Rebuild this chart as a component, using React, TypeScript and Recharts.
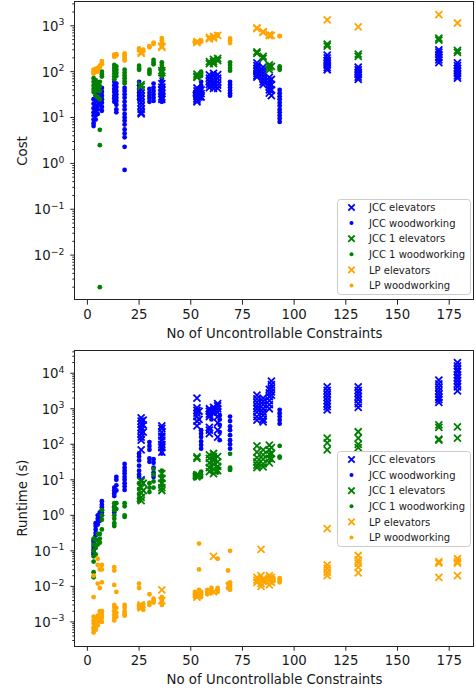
import { ScatterChart, Scatter, XAxis, YAxis } from "recharts";

// Farben wie in matplotlib ("blue", "green", "orange")
const BLUE = "#0000ff";
const GREEN = "#008000";
const ORANGE = "#ffa500";
const FONT = "'DejaVu Sans', sans-serif";

// Spalten: [Anzahl Constraints, Werte]
type Column = [number, number[]];

// ---- Kosten (oberes Diagramm) ----
const costJccElevators: Column[] = [
  [26, [40, 34, 29, 25, 21, 18, 15, 13, 12]],
  [36, [55, 46, 39, 33, 28, 25]],
  [53, [44, 38, 33, 29, 26, 24, 22]],
  [55, [40, 33, 28]],
  [59, [85, 72, 61, 52, 45]],
  [61, [92, 80, 68, 58, 50, 43]],
  [63, [86, 72, 60, 51, 43]],
  [82, [155, 135, 118, 104, 92, 82, 76]],
  [85, [125, 108, 93, 80, 69, 60, 52]],
  [88, [75, 64, 55, 47, 40, 34]],
  [89, [68, 52, 40, 30]],
  [116, [230, 200, 175, 155, 138, 123, 110]],
  [131, [125, 110, 97, 86, 76, 68]],
  [170, [300, 265, 235, 205, 180, 158]],
  [179, [155, 135, 118, 104, 92, 81, 72]],
];
const costJccWood: Column[] = [
  [3, [25, 20, 16, 13, 11, 9, 7.5, 6.5]],
  [4, [30, 23, 18, 14, 11, 9]],
  [5, [35, 28, 22, 18, 15, 12]],
  [6, [38, 30, 24, 20]],
  [7, [44, 36, 30, 25, 21, 17, 14]],
  [13, [60, 50, 42, 36, 30, 26, 22]],
  [14, [55, 46, 38, 32, 27, 23, 19, 15, 13]],
  [18, [44, 38, 32, 27, 22, 18, 15, 12, 10, 8.5, 7, 5.5, 4.5, 3.7, 2.3, 0.72]],
  [25, [60, 50, 42, 35, 30, 25]],
  [30, [42, 35, 30, 26, 22]],
  [32, [55, 45, 38, 32, 27, 23]],
  [36, [72, 60, 50, 42, 35, 30, 26, 22]],
  [52, [35, 30]],
  [55, [60, 50, 42, 35, 30, 26]],
  [69, [60, 52, 45, 39, 34, 30]],
  [93, [40, 34, 29, 25, 21, 18, 15, 13, 11, 9.5, 8]],
];
const costJcc1Elevators: Column[] = [
  [26, [52, 48]],
  [36, [105, 95]],
  [53, [88, 80, 75]],
  [59, [150, 165]],
  [61, [185, 165, 150]],
  [63, [175, 195]],
  [82, [270, 250]],
  [85, [215, 195]],
  [88, [140, 125, 110]],
  [89, [130]],
  [116, [400, 360]],
  [131, [240, 215]],
  [170, [540, 490]],
  [179, [290, 262]],
];
const costJcc1Wood: Column[] = [
  [3, [72, 60, 50, 42, 36]],
  [4, [65, 52, 44, 30]],
  [5, [55, 45, 38, 28]],
  [6, [60, 48, 38, 25, 5.4, 2.5, 0.002]],
  [7, [100, 88, 78]],
  [13, [140, 120, 105, 90, 78, 68]],
  [14, [130, 110, 95, 80]],
  [18, [110, 95, 82, 72, 62, 55]],
  [25, [135, 120, 110]],
  [30, [110, 100, 90]],
  [32, [180, 160, 145]],
  [36, [160, 140, 120, 100, 88, 78]],
  [55, [100, 90, 80]],
  [69, [160, 140, 120, 105]],
  [93, [130, 120, 110]],
];
const costLpElevators: Column[] = [
  [26, [270, 250]],
  [36, [360, 340]],
  [53, [450, 430]],
  [59, [520, 560]],
  [61, [590, 540]],
  [63, [620]],
  [82, [900, 870]],
  [85, [750, 720]],
  [88, [640, 610]],
  [89, [620]],
  [116, [1350]],
  [131, [950]],
  [170, [1750]],
  [179, [1150]],
];
const costLpWood: Column[] = [
  [3, [110, 100, 95, 90]],
  [4, [115, 105, 98]],
  [5, [120, 110, 100]],
  [6, [135, 125]],
  [7, [170, 155, 145]],
  [13, [235, 220, 210]],
  [14, [240, 225]],
  [18, [250, 230, 210, 190, 175]],
  [25, [320, 290]],
  [27, [300, 280]],
  [30, [360, 340]],
  [32, [430, 400]],
  [36, [540, 480, 420, 380]],
  [52, [460, 430]],
  [55, [480, 450]],
  [60, [560, 520]],
  [63, [650, 600]],
  [69, [530, 480, 420]],
  [93, [600, 590]],
];

// ---- Laufzeit (unteres Diagramm) ----
const runJccElevators: Column[] = [
  [26, [550, 450, 370, 300, 250, 200, 160, 130, 70, 10]],
  [27, [480, 350, 220]],
  [36, [330, 280, 220, 170, 130, 100, 80, 60]],
  [53, [2000, 1050, 900, 750, 600, 450, 330]],
  [54, [850, 500]],
  [59, [1000, 850, 700, 600, 300, 250, 200]],
  [61, [1100, 900, 750, 40]],
  [63, [1400, 1200, 1000, 800, 600, 400, 250, 160]],
  [82, [2400, 1900, 1500, 1200, 1000, 800, 600, 480]],
  [85, [2000, 1600, 1300, 1000, 800, 650, 500, 430]],
  [88, [3500, 2800, 2200, 1700, 1300, 1000]],
  [89, [6000, 4800, 3800, 3000, 2400]],
  [116, [4100, 3300, 2600, 2100, 1700, 1400, 1150, 930]],
  [131, [4100, 3300, 2700, 2200, 1800, 1400, 1100]],
  [170, [6400, 5000, 4000, 3200, 2600, 2100, 1800, 1500]],
  [179, [20000, 16000, 13000, 11000, 9000, 7500, 6200, 5000, 4100, 3200]],
];
const runJccWood: Column[] = [
  [3, [0.2, 0.17, 0.13, 0.11, 0.09, 0.08]],
  [4, [0.6, 0.5, 0.4, 0.32, 0.27]],
  [5, [1.0, 0.8, 0.65, 0.55]],
  [6, [1.2, 1.0, 0.8, 0.7]],
  [7, [2.5, 2.0, 1.7, 1.4, 1.2, 1.0]],
  [13, [6, 5, 4.2, 3.5, 1.7, 1.2]],
  [14, [12, 10, 7, 5]],
  [18, [28, 22, 18, 15, 12, 10, 8, 6.5, 5.2]],
  [25, [55, 45, 35, 25, 18, 14, 12]],
  [30, [115, 90, 70, 40, 32]],
  [32, [38, 30, 22, 16, 12]],
  [36, [180, 140, 100, 75, 55]],
  [55, [250, 200, 160, 120, 95, 75]],
  [60, [700, 500]],
  [64, [650, 500, 350, 220, 130]],
  [69, [600, 450, 320, 250, 180, 130, 100, 75]],
  [93, [930, 750, 600, 480, 380]],
];
const runJcc1Elevators: Column[] = [
  [26, [9, 6, 4.2, 3.2, 2.6]],
  [27, [8, 5]],
  [36, [15, 11, 8, 6, 5]],
  [53, [44, 40, 14, 12]],
  [59, [50, 40, 30, 22, 17]],
  [61, [55, 45, 35, 28, 20, 15]],
  [63, [45, 32, 24, 18]],
  [82, [90, 60, 42, 32, 26, 22]],
  [85, [70, 50, 38, 28, 23]],
  [88, [95, 70, 52, 40, 30]],
  [89, [80, 55, 38]],
  [116, [150, 110, 70]],
  [131, [225, 150, 100, 80]],
  [170, [350, 300, 140, 130]],
  [179, [310, 150]],
];
const runJcc1Wood: Column[] = [
  [3, [0.22, 0.15, 0.1, 0.07, 0.05, 0.025, 0.018]],
  [4, [0.2, 0.12, 0.08]],
  [5, [0.3, 0.2, 0.15]],
  [6, [0.3, 0.22, 0.17]],
  [7, [1.4, 1.0, 0.75, 0.4]],
  [13, [2.2, 1.8, 1.4, 1.0, 0.8, 0.6, 0.5]],
  [14, [2.2, 1.5]],
  [18, [2.2, 1.8, 1.0, 0.9]],
  [25, [8, 5.5, 4, 3, 2.5]],
  [30, [8, 6, 4.5]],
  [32, [20, 14, 9, 6]],
  [36, [18, 12, 9, 7]],
  [52, [15, 13, 11]],
  [55, [17, 14, 12]],
  [60, [25, 18]],
  [63, [22, 16]],
  [69, [54, 22, 20, 19]],
  [93, [90, 45, 42]],
];
const runLpElevators: Column[] = [
  [26, [0.003, 0.0025]],
  [36, [0.008, 0.004]],
  [53, [0.006, 0.005]],
  [61, [0.07, 0.007]],
  [82, [0.018, 0.015, 0.013]],
  [84, [0.11, 0.02, 0.012, 0.01]],
  [85, [0.016, 0.014]],
  [88, [0.02, 0.017, 0.014, 0.011]],
  [89, [0.018, 0.013]],
  [116, [0.42, 0.04, 0.032, 0.025, 0.02]],
  [131, [0.074, 0.055, 0.045, 0.035, 0.024]],
  [170, [0.05, 0.045, 0.018]],
  [179, [0.06, 0.05, 0.045, 0.02]],
];
const runLpWood: Column[] = [
  [3, [0.02, 0.005, 0.0014, 0.0011, 0.0009, 0.0007, 0.0006, 0.0005]],
  [4, [0.0012, 0.0009, 0.0007, 0.0006]],
  [5, [0.06, 0.04, 0.012, 0.0015, 0.0012, 0.001, 0.0008]],
  [6, [0.03, 0.009, 0.002, 0.0015, 0.0011]],
  [7, [0.04, 0.03, 0.013, 0.002, 0.0016, 0.0013, 0.001]],
  [13, [0.035, 0.028, 0.011, 0.003, 0.0025, 0.002, 0.0016, 0.0013, 0.0011]],
  [14, [0.007, 0.0025, 0.0018, 0.0014]],
  [18, [0.003, 0.0025, 0.002, 0.0017, 0.0015]],
  [25, [0.012, 0.009, 0.003, 0.0027, 0.0024]],
  [27, [0.0032, 0.0026, 0.0022]],
  [30, [0.006, 0.0035, 0.003]],
  [32, [0.0045, 0.004, 0.0035]],
  [36, [0.005, 0.0042, 0.0036, 0.003]],
  [52, [0.007, 0.006, 0.005]],
  [54, [0.16, 0.03, 0.008, 0.0065, 0.0055]],
  [55, [0.007, 0.006, 0.005]],
  [58, [0.008, 0.007, 0.006]],
  [60, [0.009, 0.0075, 0.0065]],
  [63, [0.06, 0.009, 0.008, 0.007]],
  [68, [0.028, 0.012, 0.009]],
  [69, [0.1, 0.013, 0.011, 0.009, 0.008]],
  [86, [0.016, 0.014]],
  [90, [0.017, 0.014]],
  [93, [0.017, 0.015, 0.013]],
];

// Achsen
const xTicks = [0, 25, 50, 75, 100, 125, 150, 175];
const xDomain: [number, number] = [-6, 187];
const costDomain: [number, number] = [0.00105, 3300];
const runtimeDomain: [number, number] = [0.00021, 45000];

interface Series {
  name: string;
  color: string;
  marker: "x" | "dot";
  cost: Column[];
  runtime: Column[];
}

const series: Series[] = [
  { name: "JCC elevators", color: BLUE, marker: "x", cost: costJccElevators, runtime: runJccElevators },
  { name: "JCC woodworking", color: BLUE, marker: "dot", cost: costJccWood, runtime: runJccWood },
  { name: "JCC 1 elevators", color: GREEN, marker: "x", cost: costJcc1Elevators, runtime: runJcc1Elevators },
  { name: "JCC 1 woodworking", color: GREEN, marker: "dot", cost: costJcc1Wood, runtime: runJcc1Wood },
  { name: "LP elevators", color: ORANGE, marker: "x", cost: costLpElevators, runtime: runLpElevators },
  { name: "LP woodworking", color: ORANGE, marker: "dot", cost: costLpWood, runtime: runLpWood },
];

const toPoints = (cols: Column[]) => cols.flatMap(([x, ys]) => ys.map((y) => ({ x, y })));

// Haupt- und Nebenticks für die Log-Achse
const logTicks = (domain: [number, number]) => {
  const out: number[] = [];
  const lo = Math.floor(Math.log10(domain[0]));
  const hi = Math.ceil(Math.log10(domain[1]));
  for (let e = lo; e <= hi; e++) {
    for (let m = 1; m <= 9; m++) {
      const v = m * Math.pow(10, e);
      if (v >= domain[0] && v <= domain[1]) out.push(v);
    }
  }
  return out;
};

const Marker = ({ cx, cy, color, marker, s = 3.5, r = 2.4 }: any) => {
  if (cx == null || cy == null) return null;
  if (marker === "dot") return <circle cx={cx} cy={cy} r={r} fill={color} />;
  return (
    <path
      d={`M${cx - s},${cy - s}L${cx + s},${cy + s}M${cx - s},${cy + s}L${cx + s},${cy - s}`}
      stroke={color}
      strokeWidth={1.8}
      fill="none"
    />
  );
};

const YTick = ({ x, y, payload }: any) => {
  const v = payload.value;
  const lg = Math.log10(v);
  const exp = Math.round(lg);
  const major = Math.abs(lg - exp) < 1e-6;
  return (
    <g>
      <line x1={x} x2={x - (major ? 4.7 : 2.7)} y1={y} y2={y} stroke="#222" strokeWidth={1} />
      {major && (
        <text x={x - 10.5} y={y + 4.9} textAnchor="end" fontSize={13.3} fill="#1a1a1a" fontFamily={FONT}>
          10
          <tspan dy={-5.5} fontSize={9.3}>
            {exp < 0 ? "\u2212" + Math.abs(exp) : String(exp)}
          </tspan>
        </text>
      )}
    </g>
  );
};

const XTick = ({ x, y, payload }: any) => (
  <g>
    <line x1={x} x2={x} y1={y} y2={y + 4.7} stroke="#222" strokeWidth={1} />
    <text x={x} y={y + 19} textAnchor="middle" fontSize={13.3} fill="#1a1a1a" fontFamily={FONT}>
      {payload.value}
    </text>
  </g>
);

const Panel = ({ metric, domain, top, height }: { metric: "cost" | "runtime"; domain: [number, number]; top: number; height: number }) => (
  <div style={{ position: "absolute", left: 0, top, width: 476, height }}>
    <ScatterChart width={476} height={height} margin={{ top: 2, right: 2, bottom: 0, left: 0 }}>
      <XAxis
        type="number"
        dataKey="x"
        domain={xDomain}
        ticks={xTicks}
        interval={0}
        allowDataOverflow
        axisLine={false}
        tickLine={false}
        tickSize={0}
        tickMargin={0}
        height={45}
        tick={<XTick />}
      />
      <YAxis
        type="number"
        dataKey="y"
        scale="log"
        domain={domain}
        ticks={logTicks(domain)}
        interval={0}
        allowDataOverflow
        axisLine={false}
        tickLine={false}
        tickSize={0}
        tickMargin={0}
        width={75}
        tick={<YTick />}
      />
      {series.map((s) => (
        <Scatter
          key={s.name}
          name={s.name}
          data={toPoints(s[metric])}
          isAnimationActive={false}
          shape={(p: any) => <Marker cx={p.cx} cy={p.cy} color={s.color} marker={s.marker} />}
        />
      ))}
    </ScatterChart>
  </div>
);

const LegendBox = ({ x, y }: { x: number; y: number }) => (
  <g>
    <rect x={x + 0.5} y={y + 0.5} width={133} height={95} rx={3} fill="#fff" fillOpacity={0.8} stroke="#cccccc" />
    {series.map((s, i) => {
      const cy = y + 8.5 + i * 15.6;
      return (
        <g key={s.name}>
          <Marker cx={x + 14.5} cy={cy} color={s.color} marker={s.marker} s={3.2} r={2} />
          <text x={x + 32} y={cy + 3.6} fontSize={10} fill="#1a1a1a" fontFamily={FONT}>
            {s.name}
          </text>
        </g>
      );
    })}
  </g>
);

const App = () => (
  <div style={{ position: "absolute", left: 0, top: 0, width: 476, height: 691, background: "#fff", fontFamily: FONT }}>
    <Panel metric="cost" domain={costDomain} top={0} height={345} />
    <Panel metric="runtime" domain={runtimeDomain} top={348} height={343} />
    <svg width={476} height={691} style={{ position: "absolute", left: 0, top: 0, pointerEvents: "none" }}>
      {/* Rahmen */}
      <rect x={74.5} y={1.5} width={399} height={298} fill="none" stroke="#222" strokeWidth={1} />
      <rect x={74.5} y={350.5} width={399} height={296} fill="none" stroke="#222" strokeWidth={1} />
      {/* Achsentitel */}
      <text x={274.5} y={338.3} textAnchor="middle" fontSize={13.3} fill="#1a1a1a" fontFamily={FONT}>
        No of Uncontrollable Constraints
      </text>
      <text x={274.5} y={684.3} textAnchor="middle" fontSize={13.3} fill="#1a1a1a" fontFamily={FONT}>
        No of Uncontrollable Constraints
      </text>
      <text transform="translate(26.5,151) rotate(-90)" textAnchor="middle" fontSize={13.3} fill="#1a1a1a" fontFamily={FONT}>
        Cost
      </text>
      <text transform="translate(26.5,498) rotate(-90)" textAnchor="middle" fontSize={13.3} fill="#1a1a1a" fontFamily={FONT}>
        Runtime (s)
      </text>
      <LegendBox x={337} y={199} />
      <LegendBox x={337} y={451} />
    </svg>
  </div>
);

export default App;
